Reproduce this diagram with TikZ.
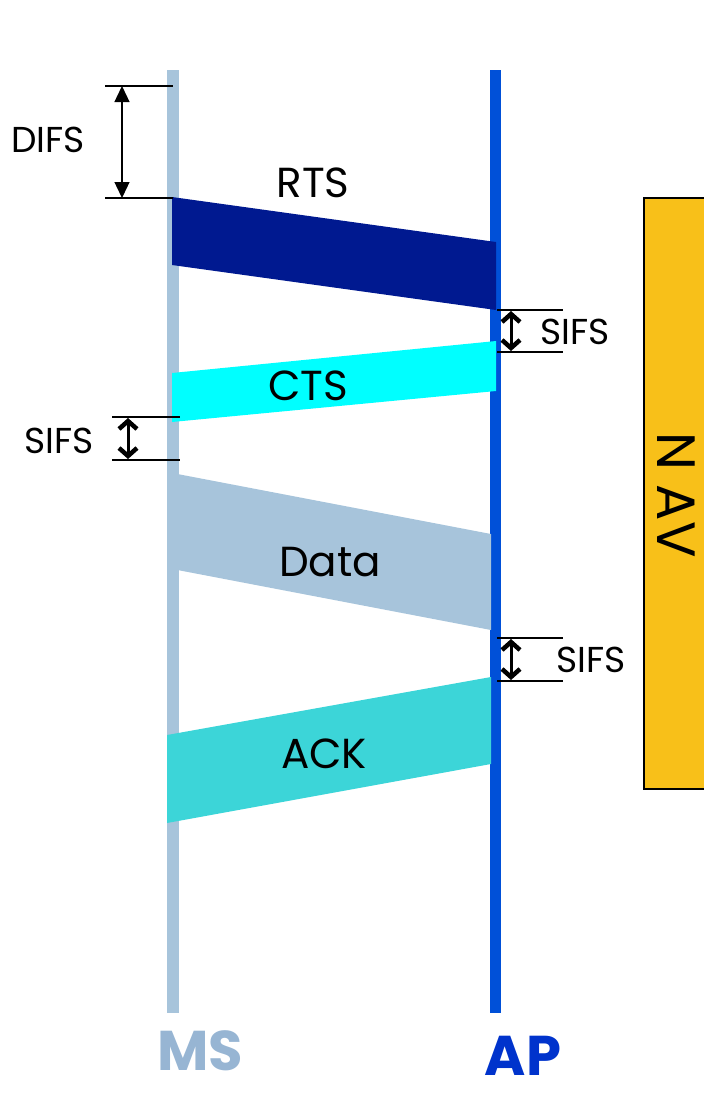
\documentclass[tikz,border=0pt]{standalone}
\usepackage{fontspec}
\setmainfont{Poppins}
\usetikzlibrary{arrows.meta}
\definecolor{msblue}{HTML}{A7C4DB}
\definecolor{apblue}{HTML}{0050D8}
\definecolor{rtsnavy}{HTML}{001990}
\definecolor{ctscyan}{HTML}{00FFFF}
\definecolor{ackteal}{HTML}{3CD5D8}
\definecolor{navgold}{HTML}{F8C019}
\definecolor{mslabel}{HTML}{97B5D3}
\definecolor{aplabel}{HTML}{0033CC}
\begin{document}
\begin{tikzpicture}[x=1pt,y=-1pt,
  small/.style={font=\fontsize{36}{40}\selectfont, inner sep=0pt},
  frame/.style={font=\fontsize{42}{46}\selectfont, inner sep=0pt},
  station/.style={font=\fontsize{56}{60}\selectfont\bfseries, inner sep=0pt},
  tick/.style={line width=1.3pt, black},
  difsarrow/.style={line width=1.3pt, {Triangle[width=15pt,length=16pt]}-{Triangle[width=15pt,length=16pt]}},
  sifsarrow/.style={line width=3pt, {Straight Barb[width=18pt,length=8pt,line width=4.5pt]}-{Straight Barb[width=18pt,length=8pt,line width=4.5pt]}}]
\useasboundingbox (0,0) rectangle (704,1096);

% station time lines
\draw[msblue, line width=12pt] (173,70) -- (173,1013);
\draw[apblue, line width=11pt] (495,70) -- (495,1013);

% frames
\fill[rtsnavy] (172,197) -- (496,242) -- (496,310) -- (172,265) -- cycle;
\fill[ctscyan] (172,373) -- (496,341) -- (496,391) -- (172,422) -- cycle;
\fill[msblue] (167,472) -- (491,534) -- (491,630) -- (167,568) -- cycle;
\fill[ackteal] (167,735) -- (491,677) -- (491,764) -- (167,823) -- cycle;

\node[frame] (rts) at (313,183) {RTS};
\node[frame] (cts) at (308,386) {CTS};
\node[frame] (data) at (330,562) {Data};
\node[frame] (ack) at (324,754) {ACK};

% DIFS
\coordinate (d1) at (105,86);  \coordinate (d1e) at (173,86);
\coordinate (d2) at (105,198); \coordinate (d2e) at (173,198);
\draw[tick] (d1) -- (d1e);
\draw[tick] (d2) -- (d2e);
\coordinate (da) at (122,86); \coordinate (db) at (122,198);
\draw[difsarrow] (da) -- (db);
\node[small] (difs) at (48,140) {DIFS};

% SIFS after RTS
\coordinate (s1a) at (497,310); \coordinate (s1b) at (563,310);
\coordinate (s1c) at (497,352); \coordinate (s1d) at (563,352);
\draw[tick] (s1a) -- (s1b);
\draw[tick] (s1c) -- (s1d);
\coordinate (s1u) at (511,311); \coordinate (s1l) at (511,351);
\draw[sifsarrow] (s1u) -- (s1l);
\node[small] (sifs1) at (575,332) {SIFS};

% SIFS after CTS
\coordinate (s2a) at (112,417); \coordinate (s2b) at (180,417);
\coordinate (s2c) at (112,460); \coordinate (s2d) at (180,460);
\draw[tick] (s2a) -- (s2b);
\draw[tick] (s2c) -- (s2d);
\coordinate (s2u) at (128,418); \coordinate (s2l) at (128,459);
\draw[sifsarrow] (s2u) -- (s2l);
\node[small] (sifs2) at (59,441) {SIFS};

% SIFS after Data
\coordinate (s3a) at (497,638); \coordinate (s3b) at (563,638);
\coordinate (s3c) at (497,681); \coordinate (s3d) at (563,681);
\draw[tick] (s3a) -- (s3b);
\draw[tick] (s3c) -- (s3d);
\coordinate (s3u) at (511,639); \coordinate (s3l) at (511,680);
\draw[sifsarrow] (s3u) -- (s3l);
\node[small] (sifs3) at (591,660) {SIFS};

% NAV
\draw[fill=navgold, line width=1.5pt] (644,198) rectangle (712,789);
\node[font=\fontsize{54}{58}\selectfont, inner sep=0pt, rotate=-90] (nav) at (676,495) {N AV};

% station names
\node[station, text=mslabel] (ms) at (200,1051) {MS};
\node[station, text=aplabel] (ap) at (523,1056) {AP};
\end{tikzpicture}
\end{document}
